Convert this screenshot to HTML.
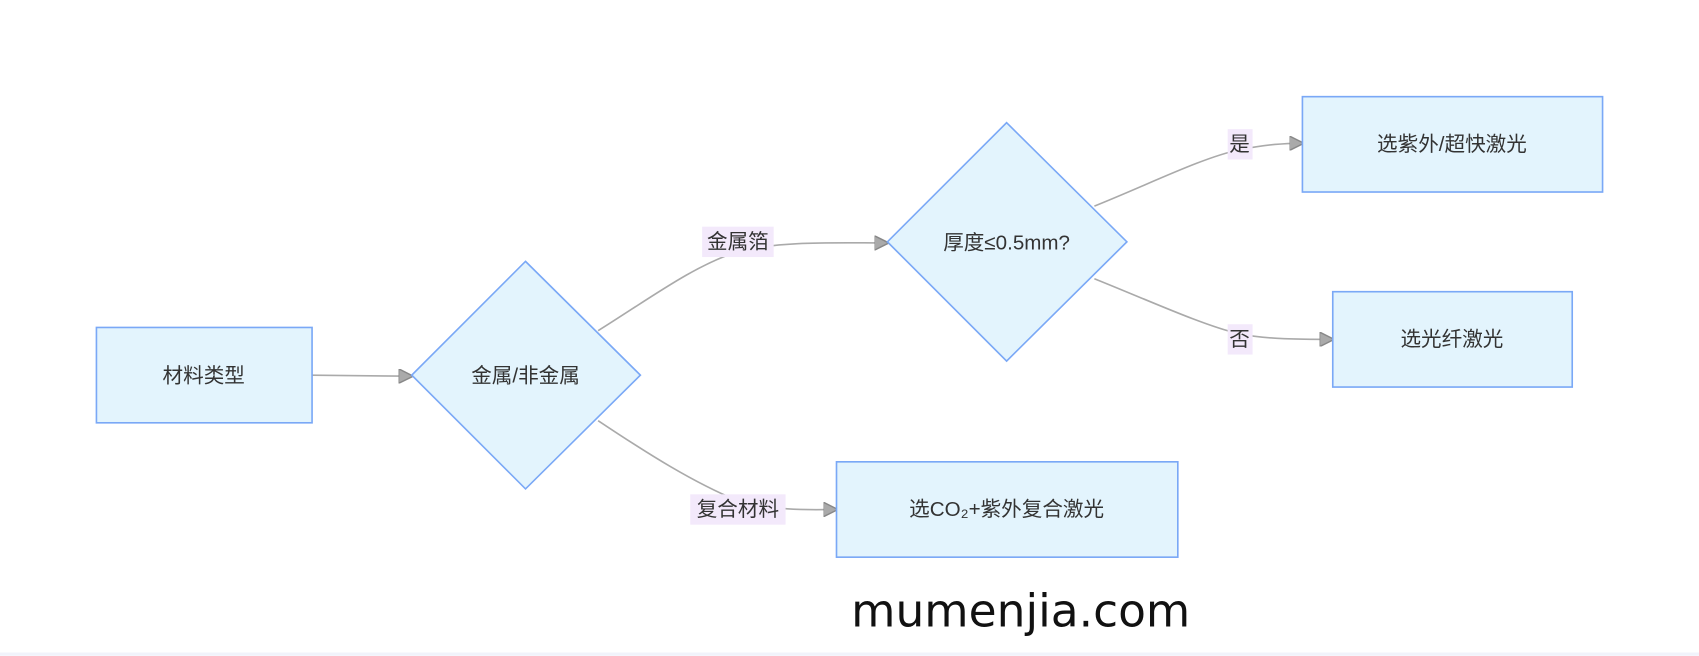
<!DOCTYPE html>
<html><head><meta charset="utf-8"><style>
html,body{margin:0;padding:0;background:#fff;width:1699px;height:656px;overflow:hidden}
text{font-family:"Liberation Sans","Noto Sans CJK SC",sans-serif;fill:#333}
</style></head><body>
<svg width="1699" height="656" viewBox="0 0 1568 605" xmlns="http://www.w3.org/2000/svg">
<defs><marker id="a" viewBox="0 0 10 10" refX="9" refY="5" markerWidth="9" markerHeight="9" orient="auto"><path d="M0,0L10,5L0,10z" fill="#aaa" stroke="#888" stroke-width="1"/></marker></defs>
<g fill="none" stroke="#aaa" stroke-width="1.5">
<path d="M288,346 L380,347" marker-end="url(#a)"/>
<path d="M552,305 C600,275 640,245 681,232 C720,222 770,224 819,224" marker-end="url(#a)"/>
<path d="M552,388 C600,420 640,445 681,462 C720,472 750,470 772,470" marker-end="url(#a)"/>
<path d="M1010,190 C1060,170 1110,145 1144,138 C1170,133 1185,132 1202,132" marker-end="url(#a)"/>
<path d="M1010,257 C1060,277 1110,300 1144,308 C1170,313 1200,313 1230,313" marker-end="url(#a)"/>
</g>
<g fill="#e3f4fd" stroke="#7aa8f6" stroke-width="1.5">
<rect x="89" y="302" width="199" height="88"/>
<polygon points="485,241 591,346 485,451 380,346"/>
<polygon points="929,113 1040,223 929,333 819,223"/>
<rect x="1202" y="89" width="277" height="88"/>
<rect x="1230" y="269" width="221" height="88"/>
<rect x="772" y="426" width="315" height="88"/>
</g>
<g fill="#f3e9fb">
<rect x="648" y="209" width="66" height="28"/>
<rect x="1133" y="119" width="23" height="28"/>
<rect x="1133" y="299" width="23" height="28"/>
<rect x="637" y="456" width="88" height="28"/>
</g>
<g font-size="19" text-anchor="middle" dominant-baseline="central">
<text x="188" y="347">材料类型</text>
<text x="485" y="347">金属/非金属</text>
<text x="929" y="224">厚度≤0.5mm?</text>
<text x="1340" y="133">选紫外/超快激光</text>
<text x="1340" y="313">选光纤激光</text>
<text x="929" y="470">选CO₂+紫外复合激光</text>
<text x="681" y="223">金属箔</text>
<text x="1144" y="133">是</text>
<text x="1144" y="313">否</text>
<text x="681" y="470">复合材料</text>
</g>
<text x="942" y="578" font-size="42" text-anchor="middle" style="fill:#111;font-family:'DejaVu Sans',sans-serif">mumenjia.com</text>
<rect x="0" y="602" width="1568" height="3" fill="#f1f3fb"/>
</svg>
</body></html>
